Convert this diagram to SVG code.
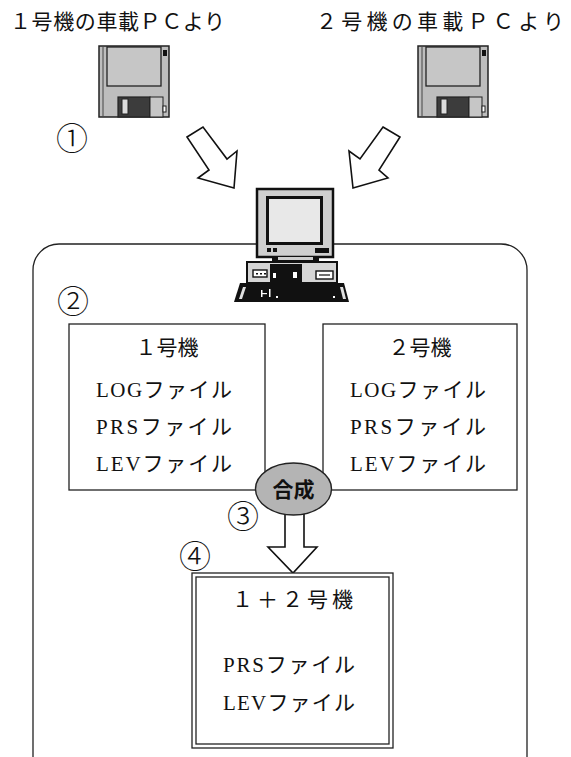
<svg xmlns="http://www.w3.org/2000/svg" xmlns:xlink="http://www.w3.org/1999/xlink" width="571" height="757" viewBox="0 0 571 757">
  <style>
    .t { font-family: "Liberation Serif", "Noto Sans CJK JP", serif; font-size: 21px; fill: #111; }
    .num { font-family: "Noto Sans CJK JP", "DejaVu Sans", sans-serif; font-size: 32px; font-weight: 300; fill: #111; text-anchor: middle; }
    .box { fill: #fff; stroke: #222; stroke-width: 1.3; }
    .ln { fill: none; stroke: #222; stroke-width: 1.3; }
    .arrow { fill: #fff; stroke: #111; stroke-width: 1.6; stroke-linejoin: miter; }
  </style>
  <defs>
    <!-- 3.5" floppy disk icon, local origin at top-left of the body -->
    <g id="floppy">
      <rect x="0" y="0" width="70" height="71" fill="#bdbdbd" stroke="#222" stroke-width="1.5"/>
      <line x1="4" y1="1" x2="4" y2="70" stroke="#444" stroke-width="1"/>
      <rect x="8" y="1" width="54" height="39" fill="#c6c6c6" stroke="#222" stroke-width="1.3"/>
      <rect x="64" y="4" width="4" height="6" fill="#111"/>
      <rect x="19" y="51" width="32" height="20" fill="#3c3c3c" stroke="#222" stroke-width="1.2"/>
      <rect x="23" y="53" width="6" height="15" fill="#dcdcdc" stroke="#222" stroke-width="1"/>
      <rect x="51" y="51" width="13" height="20" fill="#c6c6c6" stroke="#222" stroke-width="1"/>
      <rect x="64" y="60" width="3" height="6" fill="#fff" stroke="#222" stroke-width="1"/>
    </g>
  </defs>

  <!-- outer rounded frame -->
  <g id="frame">
    <rect x="33" y="244" width="494" height="540" rx="26" ry="26" class="ln"/>
  </g>

  <!-- sources -->
  <g id="source1">
    <text class="t" x="10" y="29" textLength="215" lengthAdjust="spacing">１号機の車載ＰＣより</text>
    <use xlink:href="#floppy" x="99" y="46"/>
  </g>
  <g id="source2">
    <text class="t" x="316" y="29" textLength="248" lengthAdjust="spacing">２号機の車載ＰＣより</text>
    <use xlink:href="#floppy" x="418" y="46"/>
  </g>

  <g id="step1"><text class="num" x="72" y="150">①</text></g>

  <!-- block arrows into the PC -->
  <g id="connectors">
    <polygon class="arrow" points="187,137 203,127 227,159 237,151 234,188 198,178 209,170"/>
    <polygon class="arrow" points="383,127 400,137 379,170 388,178 353,188 349,151 360,159"/>
    <!-- merged output arrow -->
    <polygon class="arrow" points="285,514 304,514 304,547 317,547 293,573 268,547 285,547"/>
  </g>

  <!-- desktop PC -->
  <g id="pc">
    <!-- monitor -->
    <rect x="257" y="189" width="76" height="68" fill="#cfcfcf" stroke="#111" stroke-width="2.5"/>
    <rect x="266" y="196" width="57" height="49" fill="#111"/>
    <rect x="269" y="199" width="51" height="43" fill="#e8e8e8"/>
    <rect x="267" y="248" width="4" height="4" fill="#111"/>
    <rect x="273" y="248" width="4" height="4" fill="#111"/>
    <rect x="315" y="248" width="14" height="5" fill="#111"/>
    <!-- stand -->
    <rect x="272" y="256" width="47" height="6" fill="#111"/>
    <rect x="278" y="257" width="35" height="3" fill="#cfcfcf"/>
    <!-- system unit -->
    <rect x="247" y="262" width="90" height="21" fill="#d6d6d6" stroke="#111" stroke-width="2"/>
    <rect x="253" y="270" width="14" height="7" fill="#fff" stroke="#111" stroke-width="1.4"/>
    <rect x="256" y="273" width="2" height="1.5" fill="#111"/>
    <rect x="260" y="273" width="2" height="1.5" fill="#111"/>
    <rect x="264" y="273" width="2" height="1.5" fill="#111"/>
    <rect x="270" y="264" width="32" height="19" fill="#111"/>
    <rect x="273" y="273" width="3" height="5" fill="#fff"/>
    <rect x="293" y="272" width="4" height="6" fill="#fff"/>
    <rect x="316" y="271" width="17" height="8" fill="#fff" stroke="#111" stroke-width="1.4"/>
    <line x1="319" y1="275" x2="330" y2="275" stroke="#111" stroke-width="1.2"/>
    <!-- keyboard -->
    <polygon points="240,283 344,283 349,302 234,302" fill="#111"/>
    <polygon points="243,287 246,287 242,299 239,299" fill="#e0e0e0"/>
    <polygon points="340,287 343,287 346,299 343,299" fill="#e0e0e0"/>
    <rect x="261" y="290" width="1.5" height="7" fill="#fff"/>
    <rect x="261" y="293" width="6" height="1.2" fill="#fff"/>
    <rect x="269" y="289" width="1.5" height="8" fill="#fff"/>
    <rect x="276" y="296" width="2" height="2" fill="#fff"/>
    <rect x="333" y="296" width="2" height="2" fill="#fff"/>
  </g>

  <g id="step2"><text class="num" x="73" y="313">②</text></g>

  <!-- unit 1 files -->
  <g id="unit1">
    <rect class="box" x="69" y="324" width="196" height="166"/>
    <text class="t" x="167" y="355" text-anchor="middle">１号機</text>
    <text class="t" x="96" y="397" textLength="136" lengthAdjust="spacing">LOGファイル</text>
    <text class="t" x="96" y="434" textLength="136" lengthAdjust="spacing">PRSファイル</text>
    <text class="t" x="96" y="471" textLength="136" lengthAdjust="spacing">LEVファイル</text>
  </g>

  <!-- unit 2 files -->
  <g id="unit2">
    <rect class="box" x="323" y="324" width="194" height="166"/>
    <text class="t" x="420" y="355" text-anchor="middle">２号機</text>
    <text class="t" x="350" y="397" textLength="136" lengthAdjust="spacing">LOGファイル</text>
    <text class="t" x="350" y="434" textLength="136" lengthAdjust="spacing">PRSファイル</text>
    <text class="t" x="350" y="471" textLength="136" lengthAdjust="spacing">LEVファイル</text>
  </g>

  <!-- merge step -->
  <g id="merge">
    <ellipse cx="293.5" cy="489" rx="38" ry="26" fill="#b4b4b4" stroke="#222" stroke-width="1.4"/>
    <text x="293.5" y="497" text-anchor="middle" font-family="Noto Sans CJK JP, sans-serif" font-size="21" font-weight="bold" fill="#111">合成</text>
  </g>

  <g id="step3"><text class="num" x="243" y="528">③</text></g>
  <g id="step4"><text class="num" x="195" y="568">④</text></g>

  <!-- merged result -->
  <g id="merged">
    <rect x="192" y="573" width="201" height="175" fill="#fff" stroke="#222" stroke-width="1.3"/>
    <rect x="196" y="577" width="193" height="167" fill="none" stroke="#222" stroke-width="1.3"/>
    <text class="t" x="232" y="607" textLength="121" lengthAdjust="spacing">１＋２号機</text>
    <text class="t" x="223" y="672" textLength="132" lengthAdjust="spacing">PRSファイル</text>
    <text class="t" x="223" y="710" textLength="132" lengthAdjust="spacing">LEVファイル</text>
  </g>
</svg>
